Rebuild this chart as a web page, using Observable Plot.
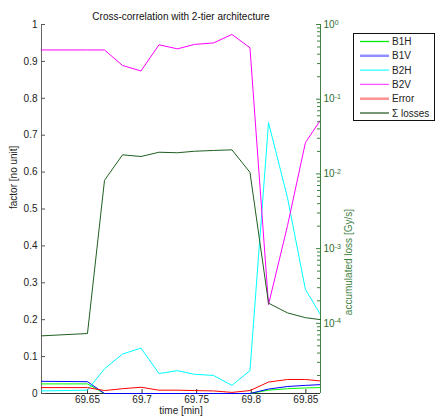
<!DOCTYPE html>
<html><head><meta charset="utf-8">
<script src="https://cdn.jsdelivr.net/npm/d3@7"></script>
<script src="https://cdn.jsdelivr.net/npm/@observablehq/plot@0.6"></script>
<style>
body{margin:0;background:#fff;}
#wrap{position:relative;width:436px;height:419px;font-family:"Liberation Sans",Arial,sans-serif;}
#wrap svg{position:absolute;left:0;top:0;}
</style></head><body><div id="wrap"></div>
<script>
// ---- data ----
const time   = [69.6079, 69.6500, 69.6656, 69.6821, 69.6990, 69.7155, 69.7324, 69.7480, 69.7654, 69.7823, 69.7988, 69.8158, 69.8332, 69.8496, 69.8634];
const b1h    = [0.026, 0.026, 0, 0, 0, 0, 0, 0, 0, 0, 0, 0.009, 0.013, 0.015, 0.016];
const b1v    = [0.033, 0.032, 0, 0, 0, 0, 0, 0, 0, 0, 0, 0.012, 0.019, 0.022, 0.024];
const b2h    = [0.007, 0.009, 0.067, 0.107, 0.123, 0.054, 0.062, 0.052, 0.049, 0.022, 0.062, 0.734, 0.530, 0.282, 0.214];
const b2v    = [0.931, 0.931, 0.931, 0.889, 0.874, 0.945, 0.934, 0.946, 0.950, 0.973, 0.937, 0.241, 0.455, 0.680, 0.741];
const errorV = [0.016, 0.016, 0.008, 0.013, 0.017, 0.009, 0.009, 0.008, 0.007, 0.003, 0.008, 0.031, 0.038, 0.038, 0.034];
const losses = [6.8e-5, 7.3e-5, 8.2e-3, 1.80e-2, 1.71e-2, 1.95e-2, 1.92e-2, 2.01e-2, 2.06e-2, 2.10e-2, 1.05e-2, 1.86e-4, 1.38e-4, 1.19e-4, 1.12e-4];

const seriesNames  = ["B1H", "B1V", "B2H", "B2V", "Error", "Σ losses"];
const seriesColors = ["#00ff00", "#0000ff", "#00ffff", "#ff00ff", "#ff0000", "#1f5f1f"];
const legendColors = ["#00ee00", "#8f8fff", "#33ffff", "#ff55ff", "#ff9090", "#2a602a"];
const legendWidths = [1.3, 2.5, 1.3, 1.3, 2.5, 1.3];
const xTicks = [69.65, 69.7, 69.75, 69.8, 69.85];
const yTicks = [0, 0.1, 0.2, 0.3, 0.4, 0.5, 0.6, 0.7, 0.8, 0.9, 1];
const lossTicks = [1, 0.1, 0.01, 0.001, 0.0001];
const lossDomain = [1.15e-5, 1];
const title = "Cross-correlation with 2-tier architecture";
const xLabel = "time [min]";
const yLabel = "factor [no unit]";
const y2Label = "accumulated loss [Gy/s]";

// ---- layout ----
const W = 436, H = 419, ML = 41, MR = 116, MT = 24, MB = 26;
const plotW = W - ML - MR, plotH = H - MT - MB;
const green = "#3f823f";
const font = '"Liberation Sans", Arial, sans-serif';

const leftSeries = [b1h, b1v, b2h, b2v, errorV];
const rows = [];
leftSeries.forEach((vals, s) => vals.forEach((v, i) => rows.push({t: time[i], v, s: seriesNames[s]})));
const lossRows = losses.map((v, i) => ({t: time[i], v}));

const minorTicks = [];
for (let k = -5; k <= -1; k++) for (let m = 2; m <= 9; m++) {
  const v = m * Math.pow(10, k);
  if (v >= lossDomain[0] && v <= lossDomain[1]) minorTicks.push(v);
}

const wrap = document.getElementById("wrap");

const p1 = Plot.plot({
  width: W, height: H, marginLeft: ML, marginRight: MR, marginTop: MT, marginBottom: MB,
  x: {domain: [time[0], time[time.length - 1]]},
  y: {domain: [0, 1]},
  color: {domain: seriesNames, range: seriesColors},
  style: {fontFamily: font, fontSize: "10px", color: "#222", background: "white"},
  marks: [
    Plot.ruleX([time[0]], {stroke: "#666"}),
    Plot.ruleY([0], {stroke: "#333"}),
    Plot.ruleY(yTicks, {stroke: "#555", insetRight: plotW - 4}),
    Plot.ruleX(xTicks, {stroke: "#333", insetTop: plotH - 4}),
    Plot.line(rows, {x: "t", y: "v", z: "s", stroke: "s", strokeWidth: 1}),
    Plot.axisY(yTicks, {tickSize: 0, tickPadding: 4, label: null, tickFormat: d => String(d)}),
    Plot.axisX(xTicks, {tickSize: 0, tickPadding: 2, label: null, tickFormat: d => String(d)}),
    Plot.text([title], {text: d => d, frameAnchor: "top", dy: -12, fill: "#111"}),
    Plot.text([xLabel], {text: d => d, frameAnchor: "bottom", dy: 20, fill: "#222"}),
    Plot.text([yLabel], {text: d => d, frameAnchor: "left", dx: -28, rotate: -90, fill: "#222"})
  ]
});
wrap.appendChild(p1);

const p2 = Plot.plot({
  width: W, height: H, marginLeft: ML, marginRight: MR, marginTop: MT, marginBottom: MB,
  x: {domain: [time[0], time[time.length - 1]], axis: null},
  y: {type: "log", domain: lossDomain, axis: null},
  style: {fontFamily: font, fontSize: "10px", color: green, background: "transparent"},
  marks: [
    Plot.ruleX([time[time.length - 1]], {stroke: green}),
    Plot.ruleY(lossTicks, {stroke: green, insetLeft: plotW - 4}),
    Plot.ruleY(minorTicks, {stroke: green, insetLeft: plotW - 3}),
    Plot.line(lossRows, {x: "t", y: "v", stroke: seriesColors[5], strokeWidth: 1}),
    Plot.axisY(lossTicks, {anchor: "right", tickSize: 0, tickPadding: 3, label: null, color: "#2f6f2f",
      tickFormat: d => "10^" + Math.round(Math.log10(d))}),
    Plot.text([y2Label], {text: d => d, frameAnchor: "right", dx: 28, rotate: -90, fill: green})
  ]
});
p2.style.background = "transparent";
wrap.appendChild(p2);

d3.select(p2).selectAll('g[aria-label="y-axis tick label"] text').each(function() {
  const t = this.textContent;
  const parts = t.split("^");
  if (parts.length === 2) {
    const s = d3.select(this);
    s.text(null);
    s.append("tspan").text(parts[0]);
    s.append("tspan").attr("dy", "-0.45em").attr("font-size", "7px").text(parts[1]);
  }
});

// ---- legend ----
const leg = d3.select(wrap).append("svg").attr("width", W).attr("height", H)
  .style("pointer-events", "none").style("font-family", font).style("font-size", "10px");
leg.append("rect").attr("x", 353.5).attr("y", 33.5).attr("width", 81).attr("height", 87)
  .attr("fill", "white").attr("stroke", "#111");
seriesNames.forEach((n, i) => {
  const y = 41.5 + i * 14.3;
  leg.append("line").attr("x1", 360).attr("x2", 389).attr("y1", y).attr("y2", y)
    .attr("stroke", legendColors[i]).attr("stroke-width", legendWidths[i]);
  leg.append("text").attr("x", 392).attr("y", y).attr("dy", "0.35em").attr("fill", "#222").text(n);
});
</script></body></html>
